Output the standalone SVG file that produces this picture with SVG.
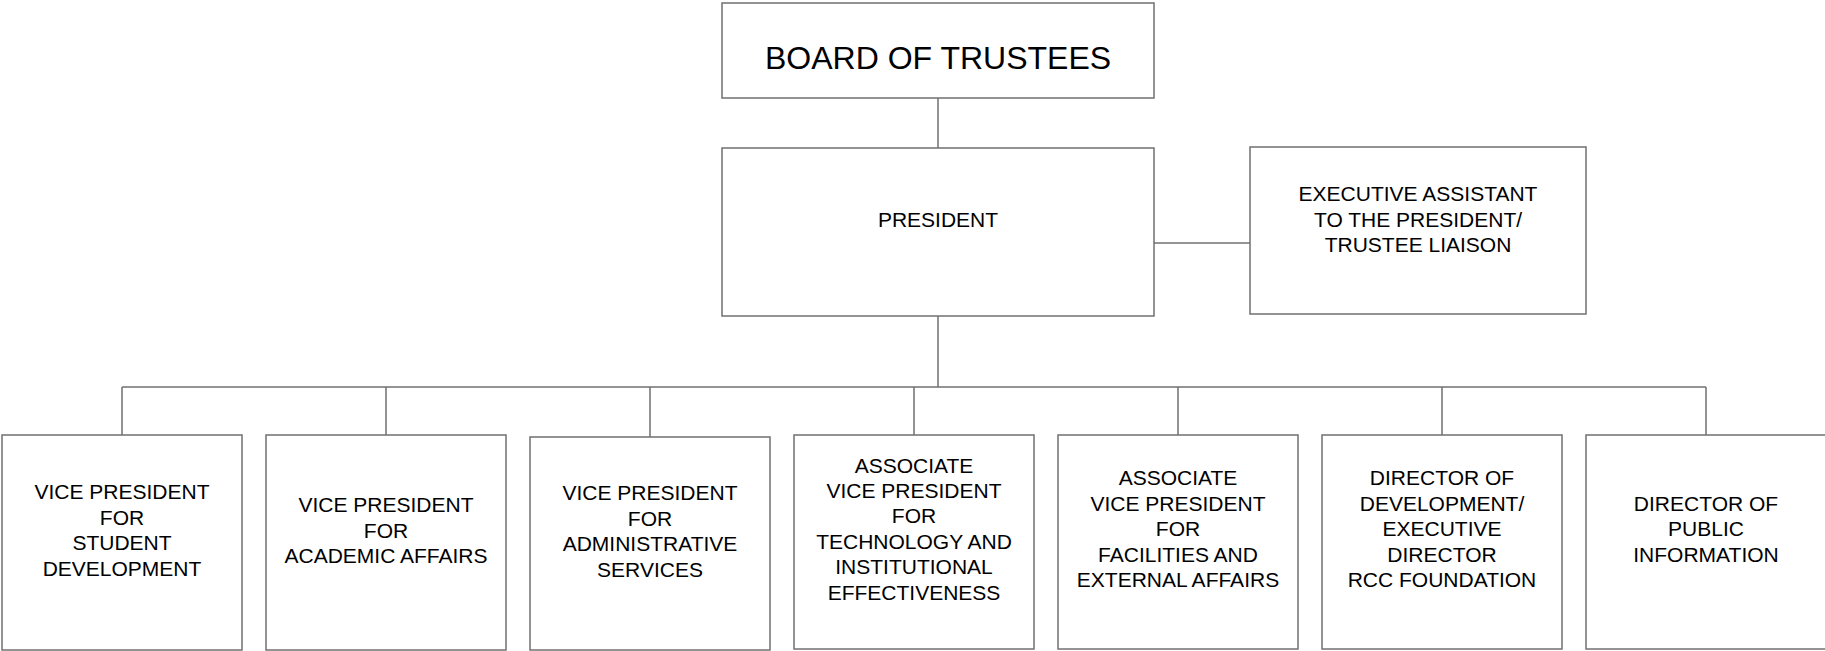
<svg xmlns="http://www.w3.org/2000/svg" width="1825" height="651" viewBox="0 0 1825 651">
<style>
.box{fill:#ffffff;stroke:#707070;stroke-width:1.5}
.ln{fill:none;stroke:#707070;stroke-width:1.5}
text{font-family:"Liberation Sans",Arial,sans-serif;font-size:21px;fill:#000000;text-anchor:middle}
.big{font-size:32px}
</style>
<rect x="0" y="0" width="1825" height="651" fill="#ffffff"/>
<g id="connectors">
<path class="ln" d="M938 98V148"/>
<path class="ln" d="M1154 243H1250"/>
<path class="ln" d="M938 316V387"/>
<path class="ln" d="M122 387H1706"/>
<path class="ln" d="M122 387V435M386 387V435M650 387V437M914 387V435M1178 387V435M1442 387V435M1706 387V435"/>
</g>
<g id="board">
<rect class="box" x="722" y="3" width="432" height="95"/>
<text class="big" x="938" y="69">BOARD OF TRUSTEES</text>
</g>
<g id="president">
<rect class="box" x="722" y="148" width="432" height="168"/>
<text x="938" y="227">PRESIDENT</text>
</g>
<g id="exec-assistant">
<rect class="box" x="1250" y="147" width="336" height="167"/>
<text x="1418" y="201">EXECUTIVE ASSISTANT</text>
<text x="1418" y="227">TO THE PRESIDENT/</text>
<text x="1418" y="252">TRUSTEE LIAISON</text>
</g>
<g id="vp-student">
<rect class="box" x="2" y="435" width="240" height="215"/>
<text x="122" y="499">VICE PRESIDENT</text>
<text x="122" y="525">FOR</text>
<text x="122" y="550">STUDENT</text>
<text x="122" y="576">DEVELOPMENT</text>
</g>
<g id="vp-academic">
<rect class="box" x="266" y="435" width="240" height="215"/>
<text x="386" y="512">VICE PRESIDENT</text>
<text x="386" y="538">FOR</text>
<text x="386" y="563">ACADEMIC AFFAIRS</text>
</g>
<g id="vp-admin">
<rect class="box" x="530" y="437" width="240" height="213"/>
<text x="650" y="500">VICE PRESIDENT</text>
<text x="650" y="526">FOR</text>
<text x="650" y="551">ADMINISTRATIVE</text>
<text x="650" y="577">SERVICES</text>
</g>
<g id="avp-tech">
<rect class="box" x="794" y="435" width="240" height="214"/>
<text x="914" y="473">ASSOCIATE</text>
<text x="914" y="498">VICE PRESIDENT</text>
<text x="914" y="523">FOR</text>
<text x="914" y="549">TECHNOLOGY AND</text>
<text x="914" y="574">INSTITUTIONAL</text>
<text x="914" y="600">EFFECTIVENESS</text>
</g>
<g id="avp-facilities">
<rect class="box" x="1058" y="435" width="240" height="214"/>
<text x="1178" y="485">ASSOCIATE</text>
<text x="1178" y="511">VICE PRESIDENT</text>
<text x="1178" y="536">FOR</text>
<text x="1178" y="562">FACILITIES AND</text>
<text x="1178" y="587">EXTERNAL AFFAIRS</text>
</g>
<g id="dir-development">
<rect class="box" x="1322" y="435" width="240" height="214"/>
<text x="1442" y="485">DIRECTOR OF</text>
<text x="1442" y="511">DEVELOPMENT/</text>
<text x="1442" y="536">EXECUTIVE</text>
<text x="1442" y="562">DIRECTOR</text>
<text x="1442" y="587">RCC FOUNDATION</text>
</g>
<g id="dir-public-info">
<rect class="box" x="1586" y="435" width="240" height="214"/>
<text x="1706" y="511">DIRECTOR OF</text>
<text x="1706" y="536">PUBLIC</text>
<text x="1706" y="562">INFORMATION</text>
</g>
</svg>
